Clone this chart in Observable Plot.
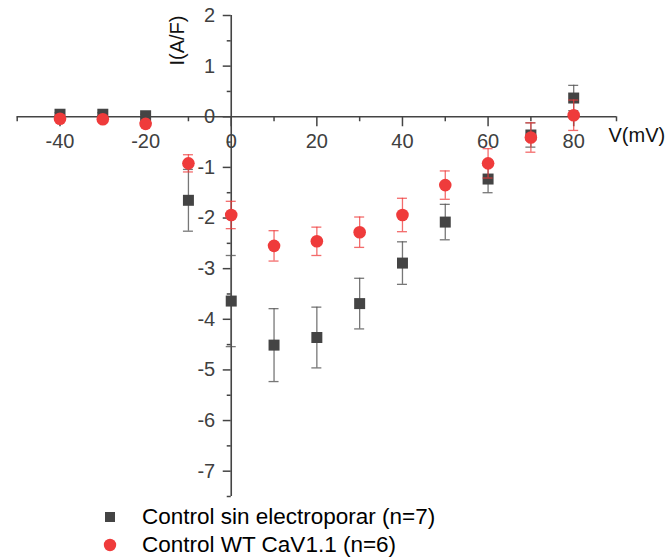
<!DOCTYPE html>
<html>
<head>
<meta charset="utf-8">
<script src="https://cdn.jsdelivr.net/npm/d3@7"></script>
<script src="https://cdn.jsdelivr.net/npm/@observablehq/plot@0.6"></script>
<style>
  body { margin: 0; background: #fff; font-family: Arial, "Liberation Sans", sans-serif; }
  #legend { position: relative; width: 668px; height: 56px; }
  .row { position: absolute; left: 0; height: 28px; width: 668px; }
  .row span.t { position: absolute; left: 142px; top: 0; line-height: 28px; font-size: 22.5px; color: #000; white-space: nowrap; }
  .row svg { position: absolute; left: 102px; top: 6px; }
</style>
</head>
<body>
<div id="chart"></div>
<div id="legend"></div>
<script>
// ---- data ----
const voltages = [-40, -30, -20, -10, 0, 10, 20, 30, 40, 50, 60, 70, 80];
const ctrlMean = [0.05, 0.05, 0.02, -1.65, -3.64, -4.51, -4.36, -3.69, -2.89, -2.08, -1.23, -0.36, 0.37];
const ctrlErr  = [0.03, 0.03, 0.03, 0.61, 0.90, 0.72, 0.60, 0.50, 0.42, 0.35, 0.27, 0.24, 0.25];
const wtMean   = [-0.04, -0.05, -0.14, -0.92, -1.94, -2.55, -2.46, -2.28, -1.94, -1.35, -0.92, -0.41, 0.03];
const wtErr    = [0.03, 0.03, 0.04, 0.17, 0.27, 0.30, 0.28, 0.30, 0.33, 0.28, 0.29, 0.29, 0.30];
const seriesNames = ["Control sin electroporar (n=7)", "Control WT CaV1.1 (n=6)"];
const xMajor = [-40, -20, 0, 20, 40, 60, 80];
const xMinor = [-50, -30, -10, 10, 30, 50, 70, 90];
const yMajor = [2, 1, 0, -1, -2, -3, -4, -5, -6, -7];
const yMinor = [1.5, 0.5, -0.5, -1.5, -2.5, -3.5, -4.5, -5.5, -6.5, -7.5];
const xTitle = "V(mV)";
const yTitle = "I(A/F)";

// ---- layout ----
const W = 668, H = 503, mL = 16.7, mR = 52, mT = 15, mB = 7;
const xDom = [-50, 90], yDom = [-7.5, 2];
const pxX = (W - mL - mR) / (xDom[1] - xDom[0]);
const pxY = (H - mT - mB) / (yDom[1] - yDom[0]);

const ctrl = voltages.map((v, i) => ({v, m: ctrlMean[i], e: ctrlErr[i]}));
const wt = voltages.map((v, i) => ({v, m: wtMean[i], e: wtErr[i]}));
const caps = (arr) => arr.flatMap(d => [{v: d.v, y: d.m - d.e}, {v: d.v, y: d.m + d.e}]);

const axisColor = "#444";
const dark = "#444444";
const red = "#ef3b3b";
const capHalf = 5 / pxX;
const fmt = d => String(d);

const plot = Plot.plot({
  width: W, height: H,
  marginLeft: mL, marginRight: mR, marginTop: mT, marginBottom: mB,
  x: {domain: xDom, axis: null},
  y: {domain: yDom, axis: null},
  style: {fontFamily: "Arial, 'Liberation Sans', sans-serif", background: "#fff", overflow: "visible"},
  marks: [
    // axes lines
    Plot.ruleY([0], {stroke: axisColor, strokeWidth: 1.6}),
    Plot.ruleX([0], {stroke: axisColor, strokeWidth: 1.6}),
    // x ticks
    Plot.ruleX(xMajor, {x: d => d, y1: 0, y2: -10 / pxY, stroke: axisColor, strokeWidth: 1.5}),
    Plot.ruleX(xMinor, {x: d => d, y1: 0, y2: -5 / pxY, stroke: axisColor, strokeWidth: 1.5}),
    // y ticks
    Plot.ruleY(yMajor, {y: d => d, x1: 0, x2: -8 / pxX, stroke: axisColor, strokeWidth: 1.5}),
    Plot.ruleY(yMinor, {y: d => d, x1: 0, x2: -4 / pxX, stroke: axisColor, strokeWidth: 1.5}),
    // tick labels
    Plot.text(xMajor, {x: d => d, y: 0, dy: 25, text: fmt, fontSize: 20, fill: "#404040", textAnchor: "middle"}),
    Plot.text(yMajor, {x: 0, y: d => d, dx: -16, text: fmt, fontSize: 20, fill: "#404040", textAnchor: "end"}),
    // axis titles
    Plot.text([xTitle], {x: xDom[1], y: 0, dx: -8, dy: 19, text: d => d, fontSize: 20, fill: "#111", textAnchor: "start"}),
    Plot.text([yTitle], {x: 0, y: yDom[1], dx: -54, dy: 25, text: d => d, fontSize: 20, fill: "#111", rotate: -90, textAnchor: "middle"}),
    // control series
    Plot.ruleX(ctrl, {x: "v", y1: d => d.m - d.e, y2: d => d.m + d.e, stroke: "#555", strokeOpacity: 0.8, strokeWidth: 1.3}),
    Plot.ruleY(caps(ctrl), {y: "y", x1: d => d.v - capHalf, x2: d => d.v + capHalf, stroke: "#555", strokeOpacity: 0.8, strokeWidth: 1.3}),
    Plot.dot(ctrl, {x: "v", y: "m", symbol: "square", r: 6.2, fill: dark, stroke: "none"}),
    // WT series
    Plot.ruleX(wt, {x: "v", y1: d => d.m - d.e, y2: d => d.m + d.e, stroke: red, strokeOpacity: 0.75, strokeWidth: 1.3}),
    Plot.ruleY(caps(wt), {y: "y", x1: d => d.v - capHalf, x2: d => d.v + capHalf, stroke: red, strokeOpacity: 0.75, strokeWidth: 1.3}),
    Plot.dot(wt, {x: "v", y: "m", symbol: "circle", r: 6.3, fill: red, stroke: "none"})
  ]
});
document.getElementById("chart").appendChild(plot);

// legend
const legend = document.getElementById("legend");
const markers = [
  `<svg width="16" height="16"><rect x="3" y="3" width="10" height="10" fill="${dark}"/></svg>`,
  `<svg width="16" height="16"><circle cx="8" cy="8" r="6.2" fill="${red}"/></svg>`
];
seriesNames.forEach((name, i) => {
  const row = document.createElement("div");
  row.className = "row";
  row.style.top = (i * 28) + "px";
  row.innerHTML = markers[i] + `<span class="t"></span>`;
  row.querySelector(".t").textContent = name;
  legend.appendChild(row);
});
</script>
</body>
</html>
